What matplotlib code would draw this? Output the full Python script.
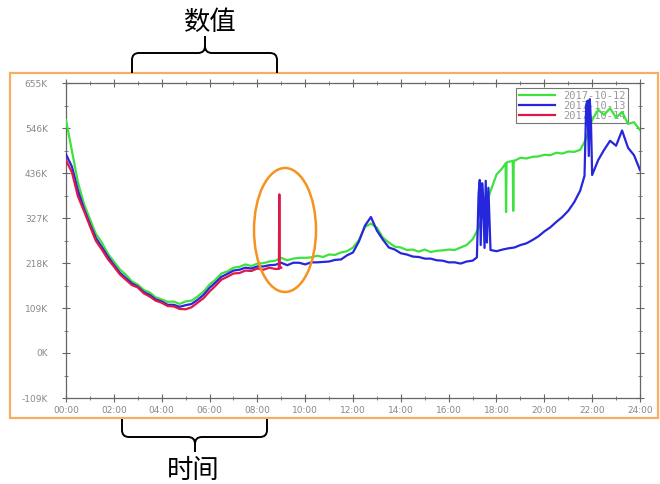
import numpy as np
import matplotlib
matplotlib.use('Agg')
from matplotlib import pyplot as plt
from matplotlib.path import Path
from matplotlib.patches import PathPatch, Ellipse, Rectangle
from matplotlib.ticker import MultipleLocator

# traffic per day, thousands, sampled every 15 minutes
grid = np.arange(0, 24.01, 0.25)

green_v = [565, 490, 414, 362, 325, 289, 268, 241, 222, 203, 190, 174,
           166, 153, 147, 135, 130, 124, 125, 119, 125, 127, 137, 149,
           166, 178, 193, 198, 207, 209, 215, 211, 217, 218, 222, 224,
           231, 225, 229, 231, 231, 232, 236, 233, 239, 238, 244, 247,
           256, 274, 306, 314, 304, 280, 268, 258, 256, 250, 251, 246,
           251, 245, 248, 249, 251, 250, 256, 262, 276, 303, 347, 393,
           433, 449, 464, 466, 474, 472, 476, 477, 481, 480, 486, 484,
           489, 488, 493, 520, 566, 590, 578, 594, 571, 585, 556, 560,
           541]
green_extra_t = [18.38, 18.40, 18.42, 18.68, 18.70, 18.72]
green_extra_v = [460, 342, 462, 466, 345, 467]

blue_v = [482, 452, 394, 350, 313, 279, 257, 234, 214, 195, 182, 169,
          161, 148, 141, 130, 125, 117, 117, 112, 116, 119, 129, 141,
          158, 171, 185, 192, 200, 202, 207, 205, 210, 210, 213, 214,
          219, 213, 219, 219, 215, 220, 220, 221, 222, 226, 227, 237,
          244, 271, 309, 330, 297, 275, 256, 251, 242, 239, 234, 233,
          229, 229, 225, 224, 220, 220, 217, 222, 224, 385, 255, 250,
          247, 251, 254, 256, 262, 266, 274, 283, 295, 305, 318, 330,
          345, 366, 394, 600, 432, 468, 493, 515, 503, 540, 498, 480,
          444]
blue_extra_t = [17.18, 17.30, 17.34, 17.40, 17.44, 17.55, 17.60, 17.66,
                21.68, 21.80, 21.86, 21.90, 21.95]
blue_extra_v = [232, 420, 262, 412, 380, 418, 268, 401,
                430, 612, 478, 616, 560]

red_v = [468, 438, 380, 345, 308, 272, 251, 228, 210, 191, 178, 165,
         159, 145, 137, 127, 122, 114, 113, 107, 106, 111, 122, 133,
         149, 163, 178, 185, 193, 194, 200, 199, 205, 202, 207, 204,
         207]
red_extra_t = [8.90, 8.92, 8.94]
red_extra_v = [204, 385, 206]

labels = ['2017-10-12', '2017-10-13', '2017-10-14']
colors = ['#3ee23e', '#2626dc', '#e01848']

x_ticks = np.arange(0, 25, 2)
x_labels = ['%02d:00' % h for h in x_ticks]
y_ticks = [-109.2, 0, 109.2, 218.4, 327.6, 436.8, 546.0, 655.2]
y_labels = ['-109K', '0K', '109K', '218K', '327K', '436K', '546K', '655K']


def merge(t, v, et, ev):
    t = np.concatenate([t, et])
    v = np.concatenate([np.asarray(v, float), ev])
    o = np.argsort(t, kind='stable')
    return t[o], v[o]


W, H = 660, 484
fig = plt.figure(figsize=(W / 100, H / 100), dpi=100)


def px(x, y):
    return (x / W, 1 - y / H)


# orange frame round the chart
fig.patches.append(Rectangle(px(10, 418), 648 / W, 345 / H, transform=fig.transFigure,
                             fill=False, edgecolor='#f6ae62', lw=1.6))

ax = fig.add_axes([66 / W, 1 - 398 / H, 574 / W, 315 / H])

series = [merge(grid, green_v, green_extra_t, green_extra_v),
          merge(grid, blue_v, blue_extra_t, blue_extra_v),
          merge(grid[:len(red_v)], red_v, red_extra_t, red_extra_v)]
for i, (t, v) in enumerate(series):
    ax.plot(t, v, color=colors[i], lw=1.6, label=labels[i], zorder=3 + i)

ax.set_xlim(0, 24)
ax.set_ylim(-109.2, 655.2)
ax.set_xticks(x_ticks)
ax.set_xticklabels(x_labels)
ax.set_yticks(y_ticks)
ax.set_yticklabels(y_labels)
ax.xaxis.set_minor_locator(MultipleLocator(1))
ax.yaxis.set_minor_locator(MultipleLocator(54.6))
ax.tick_params(which='both', direction='inout', color='#666666', top=True, right=True,
               labelcolor='#888888', labelsize=6.5)
ax.tick_params(which='major', length=6, width=0.8)
ax.tick_params(which='minor', length=3, width=0.6)
ax.tick_params(axis='y', pad=10)
ax.tick_params(axis='x', pad=3)
for s in ax.spines.values():
    s.set_color('#666666')
    s.set_linewidth(0.9)

leg = ax.legend(loc='upper right', bbox_to_anchor=(0.979, 0.984), borderaxespad=0,
                fancybox=False, frameon=True, edgecolor='#555555', facecolor='none',
                prop={'family': 'DejaVu Sans Mono', 'size': 7.5}, labelspacing=0.0,
                handlelength=3.4, handletextpad=0.8, borderpad=0.25)
leg.get_frame().set_linewidth(0.8)
for txt in leg.get_texts():
    txt.set_color('#999999')
leg.set_zorder(2)

# highlight around the spike
fig.patches.append(Ellipse(px(285, 230), 62 / W, 124 / H, transform=fig.transFigure,
                           fill=False, edgecolor='#f7921e', lw=1.8))


def brace(x0, x1, xm, yend, ybar, ytip):
    d = 7 if ybar < yend else -7
    pts = [(x0, yend), (x0, ybar + d), (x0, ybar), (x0 + 7, ybar), (xm - 7, ybar),
           (xm, ybar), (xm, ybar - d), (xm, ytip)]
    codes = [Path.MOVETO, Path.LINETO, Path.CURVE3, Path.CURVE3, Path.LINETO,
             Path.CURVE3, Path.CURVE3, Path.LINETO]
    pts += [(xm, ybar - d), (xm, ybar), (xm + 7, ybar), (x1 - 7, ybar),
            (x1, ybar), (x1, ybar + d), (x1, yend)]
    codes += [Path.MOVETO, Path.CURVE3, Path.CURVE3, Path.LINETO,
              Path.CURVE3, Path.CURVE3, Path.LINETO]
    path = Path([px(*p) for p in pts], codes)
    fig.patches.append(PathPatch(path, transform=fig.transFigure, fill=False,
                                 edgecolor='black', lw=1.4))


brace(132, 277, 205, 73, 53, 36)
brace(122, 267, 195, 419, 437, 452)

fig.text(*px(210, 22), '数值', family=['Noto Sans CJK SC', 'DejaVu Sans'], fontsize=19,
         ha='center', va='center')
fig.text(*px(193, 470), '时间', family=['Noto Sans CJK SC', 'DejaVu Sans'], fontsize=19,
         ha='center', va='center')

plt.savefig('out.png', dpi=100)
